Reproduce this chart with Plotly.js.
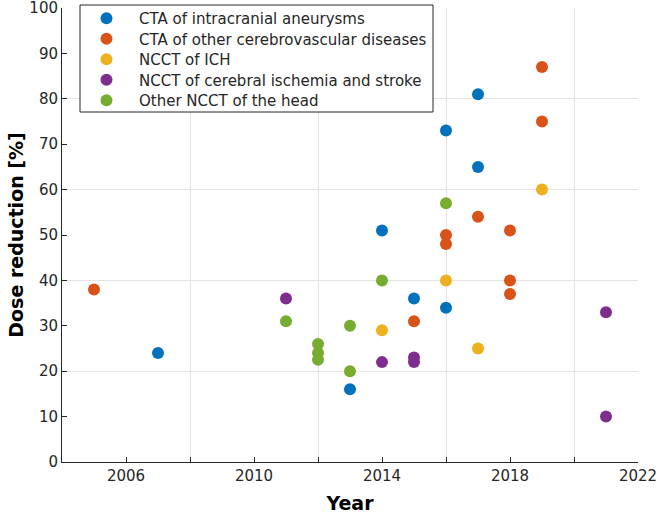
<!DOCTYPE html>
<html>
<head>
<meta charset="utf-8">
<script src="https://cdn.plot.ly/plotly-3.0.1.min.js"></script>
<style>html,body{margin:0;padding:0;background:#fff}#chart{width:661px;height:514px}</style>
</head>
<body>
<div id="chart"></div>
<script>
var seriesNames = ["CTA of intracranial aneurysms", "CTA of other cerebrovascular diseases", "NCCT of ICH", "NCCT of cerebral ischemia and stroke", "Other NCCT of the head"];
var seriesColors = ["#0072BD", "#D95319", "#EDB120", "#7E2F8E", "#77AC30"];

var aneurysmYears = [2007, 2013, 2014, 2015, 2016, 2016, 2017, 2017];
var aneurysmValues = [24, 16, 51, 36, 73, 34, 81, 65];

var otherCtaYears = [2005, 2015, 2016, 2016, 2017, 2018, 2018, 2018, 2019, 2019];
var otherCtaValues = [38, 31, 50, 48, 54, 51, 40, 37, 87, 75];

var ichYears = [2014, 2016, 2017, 2019];
var ichValues = [29, 40, 25, 60];

var strokeYears = [2011, 2014, 2015, 2015, 2021, 2021];
var strokeValues = [36, 22, 23, 22, 33, 10];

var headYears = [2011, 2012, 2012, 2012, 2013, 2013, 2014, 2016];
var headValues = [31, 26, 24, 22.5, 30, 20, 40, 57];

var xLabelTicks = [2006, 2010, 2014, 2018, 2022];
var xGridTicks = [2008, 2012, 2016, 2020];
var yLabelTicks = [0, 10, 20, 30, 40, 50, 60, 70, 80, 90, 100];
var yGridTicks = [20, 40, 60, 80, 100];

var xs = [aneurysmYears, otherCtaYears, ichYears, strokeYears, headYears];
var ys = [aneurysmValues, otherCtaValues, ichValues, strokeValues, headValues];

var W = 661, H = 514;
var M = {l: 62, r: 23, t: 8, b: 52};
var plotW = W - M.l - M.r, plotH = H - M.t - M.b;
function px2paperX(px) { return (px - M.l) / plotW; }
function px2paperY(py) { return (H - M.b - py) / plotH; }

var axisColor = '#262626';
var layout = {
  width: W, height: H,
  margin: {l: M.l, r: M.r, t: M.t, b: M.b, pad: 0, autoexpand: false},
  paper_bgcolor: '#fff', plot_bgcolor: 'rgba(0,0,0,0)',
  font: {family: 'DejaVu Sans', color: axisColor},
  showlegend: true,
  shapes: [{
    type: 'rect', xref: 'paper', yref: 'paper', layer: 'above',
    x0: px2paperX(80), x1: px2paperX(433), y0: px2paperY(112), y1: px2paperY(5),
    fillcolor: '#fff', line: {color: axisColor, width: 1}
  }],
  xaxis: {
    range: [2004, 2022], tickmode: 'array', tickvals: xLabelTicks,
    ticks: 'inside', ticklen: 5, tickcolor: axisColor, tickwidth: 1,
    showgrid: false, zeroline: false, showline: true, linecolor: axisColor, linewidth: 1,
    tickfont: {size: 15, color: axisColor}, ticklabeloverflow: 'allow',
    minor: {tickmode: 'array', tickvals: xGridTicks, ticks: 'inside', ticklen: 5, tickcolor: axisColor, showgrid: true, gridcolor: '#e3e3e3', gridwidth: 1},
    title: {text: '<b>Year</b>', font: {size: 19, color: '#000'}, standoff: 14}
  },
  yaxis: {
    range: [0, 100], tickmode: 'array', tickvals: yLabelTicks,
    ticks: 'inside', ticklen: 5, tickcolor: axisColor, tickwidth: 1,
    showgrid: false, zeroline: false, showline: true, linecolor: axisColor, linewidth: 1,
    tickfont: {size: 15, color: axisColor}, ticklabeloverflow: 'allow',
    title: {text: '<b>Dose reduction [%]</b>', font: {size: 19, color: '#000'}, standoff: 0}
  },
  yaxis2: {
    overlaying: 'y', range: [0, 100], tickmode: 'array', tickvals: yGridTicks,
    showgrid: true, gridcolor: '#e3e3e3', gridwidth: 1, showticklabels: false,
    ticks: '', zeroline: false, showline: false
  }
};

var traces = [{x: [], y: [], xaxis: 'x', yaxis: 'y2', showlegend: false, hoverinfo: 'skip', mode: 'markers'}];
for (var i = 0; i < seriesNames.length; i++) {
  var legName = i === 0 ? 'legend' : 'legend' + (i + 1);
  traces.push({
    x: xs[i], y: ys[i], name: seriesNames[i], type: 'scatter', mode: 'markers',
    legend: legName,
    marker: {color: seriesColors[i], size: 12, line: {width: 0}}
  });
  layout[legName] = {
    x: px2paperX(74), y: px2paperY(18.5 + 20.5 * i), xanchor: 'left', yanchor: 'middle',
    bgcolor: 'rgba(0,0,0,0)', borderwidth: 0,
    font: {family: 'DejaVu Sans', size: 15, color: axisColor},
    itemwidth: 55
  };
}

Plotly.newPlot('chart', traces, layout, {displayModeBar: false, staticPlot: true});
</script>
</body>
</html>
